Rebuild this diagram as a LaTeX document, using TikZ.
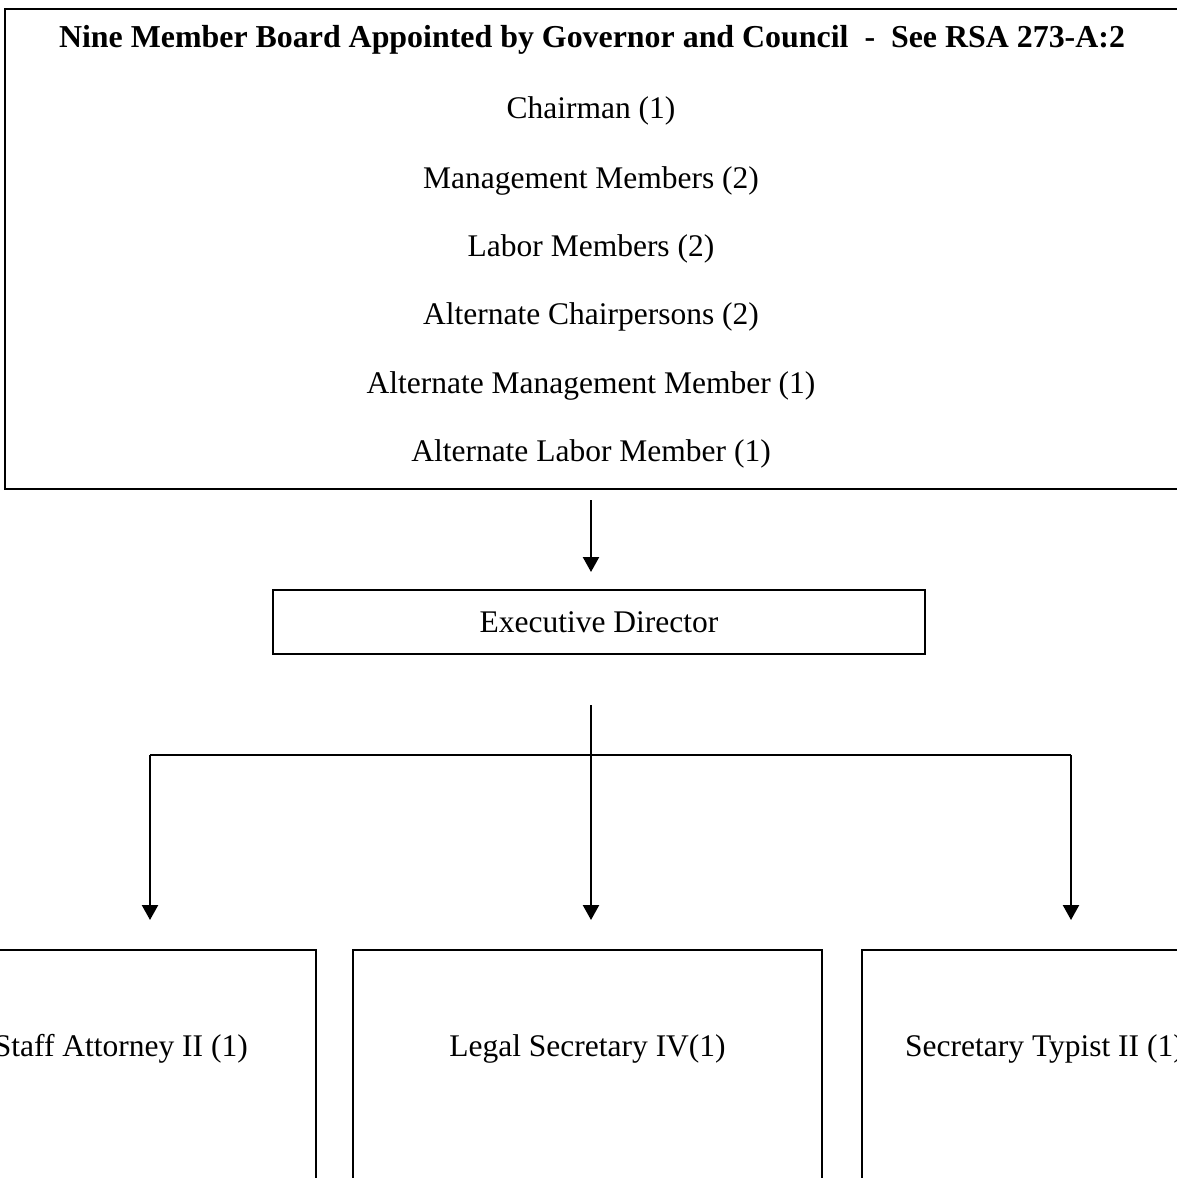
\documentclass[tikz,border=0pt]{standalone}
\usepackage{fontspec}
\setmainfont{Liberation Serif}
\usetikzlibrary{arrows.meta}
\begin{document}
\begin{tikzpicture}[x=1pt,y=-1pt,
  box/.style={draw=black, line width=2pt, inner sep=0pt, outer sep=0pt},
  txt/.style={inner sep=0pt, font=\fontsize{31.5}{36}\selectfont},
  arr/.style={draw=black, line width=2.3pt, -{Triangle[width=16pt,length=15pt]}},
  conn/.style={draw=black, line width=2.3pt}]
\useasboundingbox (0,0) rectangle (1177,1178);
\fill[white] (0,0) rectangle (1177,1178);
\clip (0,0) rectangle (1177,1178);
% top board box
\node[box, line width=2.8pt, minimum width=1185pt, minimum height=480pt] (board) at (597.5,249) {};
\node[txt, font=\fontsize{31.9}{36}\selectfont\bfseries] (title) at (592,40) {Nine Member Board Appointed by Governor and Council\ \ -\ \ See RSA 273-A:2};
\node[txt] (m1) at (591,111) {Chairman (1)};
\node[txt] (m2) at (591,181) {Management Members (2)};
\node[txt] (m3) at (591,249) {Labor Members (2)};
\node[txt] (m4) at (591,317) {Alternate Chairpersons (2)};
\node[txt] (m5) at (591,386) {Alternate Management Member (1)};
\node[txt] (m6) at (591,454) {Alternate Labor Member (1)};
% executive director
\node[box, txt, minimum width=652pt, minimum height=64pt] (ed) at (599,622) {Executive Director};
% bottom boxes
\node[box, minimum width=469pt, minimum height=300pt] (sa) at (81.5,1100) {};
\node[box, minimum width=469pt, minimum height=300pt] (ls) at (587.5,1100) {};
\node[txt] (lst) at (587.5,1049) {Legal Secretary IV(1)};
\node[box, minimum width=469pt, minimum height=300pt] (st) at (1096.5,1100) {};
\node[txt, anchor=east] (sat) at (248,1049) {Staff Attorney II (1)};
\node[txt, anchor=west] (stt) at (905,1049) {Secretary Typist II (1)};
% connectors
\coordinate (bo) at (591,500);
\coordinate (ei) at (591,572);
\coordinate (eo) at (591,705);
\coordinate (jl) at (150,755);
\coordinate (jr) at (1071,755);
\coordinate (tl) at (150,920);
\coordinate (tm) at (591,920);
\coordinate (tr) at (1071,920);
\draw[arr] (bo) -- (ei);
\draw[arr] (eo) -- (tm);
\draw[conn] (jl) -- (jr);
\draw[arr] (jl) -- (tl);
\draw[arr] (jr) -- (tr);
\end{tikzpicture}
\end{document}
